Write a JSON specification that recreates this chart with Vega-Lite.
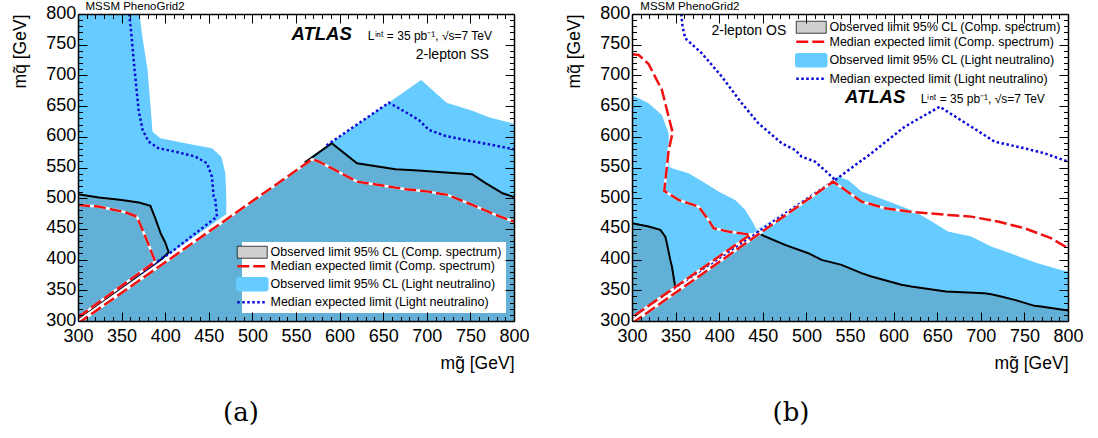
{
"$schema": "https://vega.github.io/schema/vega-lite/v6.json",
"padding": {"left": 11, "top": 0, "right": 0, "bottom": 0},
"background": "white",
"config": {"view": {"stroke": null}, "font": "Liberation Sans"},
"bounds": "flush",
"spacing": 118,
"resolve": {"scale": {"color": "independent"}, "legend": {"color": "independent"}},
"datasets": {
"A": [
{"s":"blue","x":300,"y":300},{"s":"blue","x":300,"y":800},{"s":"blue","x":370.6,"y":800},{"s":"blue","x":373.2,"y":768.6},{"s":"blue","x":379.8,"y":708.8},{"s":"blue","x":385.5,"y":608.4},{"s":"blue","x":394.4,"y":597.7},{"s":"blue","x":423.1,"y":589.5},{"s":"blue","x":453.6,"y":581.4},{"s":"blue","x":464.4,"y":567.7},{"s":"blue","x":469,"y":540.7},{"s":"blue","x":470.1,"y":497.2},{"s":"blue","x":470.1,"y":472},{"s":"blue","x":693.6,"y":692.6},{"s":"blue","x":722.7,"y":655.6},{"s":"blue","x":752.1,"y":642.6},{"s":"blue","x":771.3,"y":631.8},{"s":"blue","x":800,"y":621},{"s":"blue","x":800,"y":300},
{"s":"hatch","x":300,"y":300},{"s":"hatch","x":300,"y":506.5},{"s":"hatch","x":324,"y":501},{"s":"hatch","x":350,"y":497},{"s":"hatch","x":370,"y":493},{"s":"hatch","x":383,"y":487.5},{"s":"hatch","x":389,"y":466},{"s":"hatch","x":395,"y":442},{"s":"hatch","x":400,"y":428},{"s":"hatch","x":404,"y":412},{"s":"hatch","x":395,"y":399},{"s":"hatch","x":568,"y":566},{"s":"hatch","x":591,"y":589.5},{"s":"hatch","x":620,"y":557},{"s":"hatch","x":664,"y":547},{"s":"hatch","x":690,"y":545},{"s":"hatch","x":722,"y":541.7},{"s":"hatch","x":752,"y":539},{"s":"hatch","x":767,"y":525},{"s":"hatch","x":787,"y":508},{"s":"hatch","x":800,"y":502},{"s":"hatch","x":800,"y":300},
{"s":"white","x":300,"y":301},{"s":"white","x":568,"y":567},
{"s":"black1","x":300,"y":506.5},{"s":"black1","x":324,"y":501},{"s":"black1","x":350,"y":497},{"s":"black1","x":370,"y":493},{"s":"black1","x":383,"y":487.5},{"s":"black1","x":389,"y":466},{"s":"black1","x":395,"y":442},{"s":"black1","x":400,"y":428},{"s":"black1","x":404,"y":412},{"s":"black1","x":396,"y":401},{"s":"black1","x":300,"y":304},
{"s":"black2","x":560,"y":558},{"s":"black2","x":568,"y":566},{"s":"black2","x":591,"y":589.5},{"s":"black2","x":620,"y":557},{"s":"black2","x":664,"y":547},{"s":"black2","x":690,"y":545},{"s":"black2","x":722,"y":541.7},{"s":"black2","x":752,"y":539},{"s":"black2","x":767,"y":525},{"s":"black2","x":787,"y":508},{"s":"black2","x":800,"y":502},
{"s":"dot1","x":358.8,"y":800},{"s":"dot1","x":361.1,"y":768.6},{"s":"dot1","x":364.9,"y":708.8},{"s":"dot1","x":369.5,"y":643.7},{"s":"dot1","x":374.1,"y":611.2},{"s":"dot1","x":380.9,"y":592.2},{"s":"dot1","x":392.4,"y":581.4},{"s":"dot1","x":411.6,"y":575.8},{"s":"dot1","x":434.6,"y":567.7},{"s":"dot1","x":447.9,"y":557},{"s":"dot1","x":453.6,"y":535},{"s":"dot1","x":455.6,"y":502.5},{"s":"dot1","x":457.5,"y":497.2},{"s":"dot1","x":459.4,"y":470},{"s":"dot1","x":407.7,"y":413},{"s":"dot1","x":300,"y":307},
{"s":"dot2","x":585,"y":586},{"s":"dot2","x":656.5,"y":655.6},{"s":"dot2","x":668,"y":646.5},{"s":"dot2","x":691,"y":627.4},{"s":"dot2","x":702.4,"y":611.2},{"s":"dot2","x":721.6,"y":601.4},{"s":"dot2","x":748.3,"y":593.7},{"s":"dot2","x":775.1,"y":586.7},{"s":"dot2","x":800,"y":579.8},
{"s":"red1","x":300,"y":489},{"s":"red1","x":323.5,"y":486.3},{"s":"red1","x":354.2,"y":477.2},{"s":"red1","x":367.5,"y":470},{"s":"red1","x":377.2,"y":437.5},{"s":"red1","x":388.6,"y":396.8},{"s":"red1","x":300,"y":306},
{"s":"red2","x":300,"y":296},{"s":"red2","x":568.5,"y":563.4},{"s":"red2","x":576.4,"y":559.6},{"s":"red2","x":620.1,"y":527},{"s":"red2","x":645,"y":521.6},{"s":"red2","x":675.7,"y":514.6},{"s":"red2","x":702.4,"y":510.7},{"s":"red2","x":723.4,"y":505.4},{"s":"red2","x":733.1,"y":500},{"s":"red2","x":752.1,"y":489.1},{"s":"red2","x":779,"y":472.8},{"s":"red2","x":800,"y":461.9}
],
"B": [
{"s":"blue","x":300,"y":300},{"s":"blue","x":300,"y":668},{"s":"blue","x":319,"y":654.6},{"s":"blue","x":334.3,"y":635.6},{"s":"blue","x":342,"y":605.8},{"s":"blue","x":342.8,"y":551.4},{"s":"blue","x":345.8,"y":548.8},{"s":"blue","x":364.9,"y":540.7},{"s":"blue","x":384,"y":524.4},{"s":"blue","x":399.2,"y":510.8},{"s":"blue","x":418.3,"y":497.2},{"s":"blue","x":429.7,"y":481.1},{"s":"blue","x":439.2,"y":459.3},{"s":"blue","x":443,"y":448.4},{"s":"blue","x":536.3,"y":535.1},{"s":"blue","x":547.8,"y":529.8},{"s":"blue","x":563.2,"y":510.8},{"s":"blue","x":590,"y":497.2},{"s":"blue","x":624.3,"y":478.2},{"s":"blue","x":647.1,"y":459.3},{"s":"blue","x":662.3,"y":445.6},{"s":"blue","x":689,"y":437.5},{"s":"blue","x":711.9,"y":421.2},{"s":"blue","x":738.7,"y":407.7},{"s":"blue","x":765.3,"y":394.1},{"s":"blue","x":792,"y":383.2},{"s":"blue","x":800,"y":380.5},{"s":"blue","x":800,"y":300},
{"s":"hatch","x":300,"y":300},{"s":"hatch","x":300,"y":459.3},{"s":"hatch","x":319,"y":454},{"s":"hatch","x":332.5,"y":448.4},{"s":"hatch","x":338.2,"y":437.5},{"s":"hatch","x":340,"y":426.7},{"s":"hatch","x":343.9,"y":399.5},{"s":"hatch","x":345.8,"y":388.6},{"s":"hatch","x":349.5,"y":351},{"s":"hatch","x":444,"y":446},{"s":"hatch","x":448.7,"y":440.2},{"s":"hatch","x":475.5,"y":424},{"s":"hatch","x":502.2,"y":410.4},{"s":"hatch","x":517.4,"y":399.5},{"s":"hatch","x":540.3,"y":391.4},{"s":"hatch","x":563.2,"y":377.9},{"s":"hatch","x":574.6,"y":372.4},{"s":"hatch","x":609,"y":358.9},{"s":"hatch","x":620.3,"y":356.1},{"s":"hatch","x":660,"y":348},{"s":"hatch","x":704.3,"y":345.3},{"s":"hatch","x":711.9,"y":343.7},{"s":"hatch","x":723.3,"y":339.9},{"s":"hatch","x":738.7,"y":334.4},{"s":"hatch","x":761.6,"y":324.7},{"s":"hatch","x":769.1,"y":323.6},{"s":"hatch","x":800,"y":317},{"s":"hatch","x":800,"y":300},
{"s":"white","x":300,"y":301},{"s":"white","x":532,"y":531},
{"s":"black1","x":300,"y":459.3},{"s":"black1","x":319,"y":454},{"s":"black1","x":332.5,"y":448.4},{"s":"black1","x":338.2,"y":437.5},{"s":"black1","x":340,"y":426.7},{"s":"black1","x":343.9,"y":399.5},{"s":"black1","x":345.8,"y":388.6},{"s":"black1","x":349.5,"y":356},{"s":"black1","x":300,"y":305},
{"s":"black2","x":444,"y":446},{"s":"black2","x":448.7,"y":440.2},{"s":"black2","x":475.5,"y":424},{"s":"black2","x":502.2,"y":410.4},{"s":"black2","x":517.4,"y":399.5},{"s":"black2","x":540.3,"y":391.4},{"s":"black2","x":563.2,"y":377.9},{"s":"black2","x":574.6,"y":372.4},{"s":"black2","x":609,"y":358.9},{"s":"black2","x":620.3,"y":356.1},{"s":"black2","x":660,"y":348},{"s":"black2","x":704.3,"y":345.3},{"s":"black2","x":711.9,"y":343.7},{"s":"black2","x":723.3,"y":339.9},{"s":"black2","x":738.7,"y":334.4},{"s":"black2","x":761.6,"y":324.7},{"s":"black2","x":769.1,"y":323.6},{"s":"black2","x":800,"y":317},
{"s":"dot1","x":356.5,"y":800},{"s":"dot1","x":358,"y":779.3},{"s":"dot1","x":361.1,"y":760.4},{"s":"dot1","x":380.1,"y":736},{"s":"dot1","x":403,"y":698},{"s":"dot1","x":425.9,"y":654.6},{"s":"dot1","x":445,"y":622},{"s":"dot1","x":471.6,"y":589.5},{"s":"dot1","x":487,"y":578.6},{"s":"dot1","x":494.5,"y":567.7},{"s":"dot1","x":509.8,"y":559.6},{"s":"dot1","x":523.1,"y":543},{"s":"dot1","x":532.7,"y":530},
{"s":"dot2","x":300,"y":307},{"s":"dot2","x":536.3,"y":533},{"s":"dot2","x":574.6,"y":573.3},{"s":"dot2","x":612.8,"y":616.5},{"s":"dot2","x":652.8,"y":649},{"s":"dot2","x":689,"y":616.5},{"s":"dot2","x":715.8,"y":592.1},{"s":"dot2","x":750.1,"y":581.3},{"s":"dot2","x":773,"y":573.2},{"s":"dot2","x":800,"y":559.6},
{"s":"red1","x":300,"y":734.4},{"s":"red1","x":307.7,"y":733.3},{"s":"red1","x":319,"y":718.6},{"s":"red1","x":334.3,"y":676.3},{"s":"red1","x":346.6,"y":606.8},{"s":"red1","x":342,"y":578},{"s":"red1","x":337,"y":512},{"s":"red1","x":353.4,"y":497.2},{"s":"red1","x":376.3,"y":486.3},{"s":"red1","x":387.7,"y":464.7},{"s":"red1","x":393.5,"y":451.1},{"s":"red1","x":410.6,"y":445.6},{"s":"red1","x":429.7,"y":441.9},{"s":"red1","x":436,"y":441},{"s":"red1","x":300,"y":306},
{"s":"red2","x":300,"y":296},{"s":"red2","x":530.7,"y":527},{"s":"red2","x":536.3,"y":521.6},{"s":"red2","x":563.2,"y":494.5},{"s":"red2","x":590,"y":483.7},{"s":"red2","x":616.7,"y":478.2},{"s":"red2","x":662.3,"y":472.8},{"s":"red2","x":689,"y":470},{"s":"red2","x":719.6,"y":461.9},{"s":"red2","x":750.1,"y":451.1},{"s":"red2","x":780.5,"y":434.9},{"s":"red2","x":800,"y":418.6}
]
},
"hconcat": [
{
"width": 436, "height": 307,
"data": {"name": "A"},
"title": {"text": "(a)", "orient": "bottom", "anchor": "middle", "frame": "group", "font": "DejaVu Serif", "fontSize": 26, "fontWeight": "normal", "color": "black", "offset": 28, "dx": -55},
"resolve": {"axis": {"x": "independent", "y": "independent"}},
"layer": [
{"transform": [{"filter": "datum.s == 'blue'"}],
 "mark": {"type": "line", "fill": "#66ccff", "strokeWidth": 0, "clip": true},
 "encoding": {
  "x": {"field": "x", "type": "quantitative", "scale": {"domain": [300, 800], "nice": false, "zero": false},
   "axis": {"orient": "bottom", "values": [300,350,400,450,500,550,600,650,700,750,800], "format": "d", "tickSize": -9, "tickColor": "black", "tickWidth": 1, "labelPadding": 15.5, "labelFont": "Liberation Sans", "labelFontSize": 18, "labelColor": "black", "labelFlush": false, "labelOverlap": false, "domain": true, "domainColor": "black", "domainWidth": 1.5, "grid": false, "zindex": 1, "title": "mg̃ [GeV]", "titleFont": "Liberation Sans", "titleFontSize": 17.5, "titleFontWeight": "normal", "titleColor": "black", "titleAnchor": "end", "titlePadding": 9}},
  "y": {"field": "y", "type": "quantitative", "scale": {"domain": [300, 800], "nice": false, "zero": false},
   "axis": {"orient": "left", "values": [300,350,400,450,500,550,600,650,700,750,800], "format": "d", "tickSize": -9, "tickColor": "black", "tickWidth": 1, "labelPadding": 11.2, "labelOffset": -1, "labelFont": "Liberation Sans", "labelFontSize": 18, "labelColor": "black", "labelFlush": false, "labelOverlap": false, "domain": true, "domainColor": "black", "domainWidth": 1.5, "grid": false, "zindex": 1, "title": "mq̃ [GeV]", "titleFont": "Liberation Sans", "titleFontSize": 17.5, "titleFontWeight": "normal", "titleColor": "black", "titleAnchor": "end", "titlePadding": 16}},
  "order": {"value": null}
 }},
{"transform": [{"filter": "datum.s == 'hatch'"}],
 "mark": {"type": "line", "fill": "#62b0d6", "strokeWidth": 0, "clip": true},
 "encoding": {
  "x": {"field": "x", "type": "quantitative", "axis": {"orient": "bottom", "values": [310,320,330,340,360,370,380,390,410,420,430,440,460,470,480,490,510,520,530,540,560,570,580,590,610,620,630,640,660,670,680,690,710,720,730,740,760,770,780,790], "tickSize": -4.5, "tickColor": "black", "tickWidth": 1, "labels": false, "domain": false, "grid": false, "zindex": 1, "title": null}},
  "y": {"field": "y", "type": "quantitative", "axis": {"orient": "left", "values": [310,320,330,340,360,370,380,390,410,420,430,440,460,470,480,490,510,520,530,540,560,570,580,590,610,620,630,640,660,670,680,690,710,720,730,740,760,770,780,790], "tickSize": -4.5, "tickColor": "black", "tickWidth": 1, "labels": false, "domain": false, "grid": false, "zindex": 1, "title": null}},
  "order": {"value": null}
 }},
{"transform": [{"filter": "datum.s == 'white'"}],
 "mark": {"type": "line", "color": "white", "strokeWidth": 4, "clip": true},
 "encoding": {
  "x": {"field": "x", "type": "quantitative", "axis": {"orient": "top", "values": [300,350,400,450,500,550,600,650,700,750,800], "tickSize": -9, "tickColor": "black", "tickWidth": 1, "labels": false, "domain": true, "domainColor": "black", "domainWidth": 1.5, "grid": false, "zindex": 1, "title": null}},
  "y": {"field": "y", "type": "quantitative", "axis": {"orient": "right", "values": [300,350,400,450,500,550,600,650,700,750,800], "tickSize": -9, "tickColor": "black", "tickWidth": 1, "labels": false, "domain": true, "domainColor": "black", "domainWidth": 1.5, "grid": false, "zindex": 1, "title": null}},
  "order": {"value": null}
 }},
{"transform": [{"filter": "datum.s == 'black1' || datum.s == 'black2'"}],
 "mark": {"type": "line", "strokeWidth": 2, "clip": true},
 "encoding": {
  "x": {"field": "x", "type": "quantitative", "axis": {"orient": "top", "values": [310,320,330,340,360,370,380,390,410,420,430,440,460,470,480,490,510,520,530,540,560,570,580,590,610,620,630,640,660,670,680,690,710,720,730,740,760,770,780,790], "tickSize": -4.5, "tickColor": "black", "tickWidth": 1, "labels": false, "domain": false, "grid": false, "zindex": 1, "title": null}},
  "y": {"field": "y", "type": "quantitative", "axis": {"orient": "right", "values": [310,320,330,340,360,370,380,390,410,420,430,440,460,470,480,490,510,520,530,540,560,570,580,590,610,620,630,640,660,670,680,690,710,720,730,740,760,770,780,790], "tickSize": -4.5, "tickColor": "black", "tickWidth": 1, "labels": false, "domain": false, "grid": false, "zindex": 1, "title": null}},
  "detail": {"field": "s"},
  "order": {"value": null},
  "color": {"datum": "Observed limit 95% CL (Comp. spectrum)",
   "scale": {"domain": ["Observed limit 95% CL (Comp. spectrum)", "Median expected limit (Comp. spectrum)", "Observed limit 95% CL (Light neutralino)", "Median expected limit (Light neutralino)"], "range": ["#000000", "#f01010", "#66ccff", "#0a0ad6"]},
   "legend": {"orient": "bottom-right", "offset": 8, "padding": 4, "title": null, "fillColor": "white", "labelFont": "Liberation Sans", "labelFontSize": 12.5, "labelColor": "black", "labelLimit": 400, "labelOffset": 12, "symbolSize": 900, "rowPadding": 0,
    "encode": {"symbols": {
     "enter": {"strokeWidth": {"value": 2}, "size": {"value": 900}},
     "update": {
     "shape": {"signal": "datum.index == 0 || datum.index == 2 ? 'M-1,-0.4H1V0.4H-1Z' : 'M-1,0H1'"},
     "fill": {"signal": "datum.index == 0 ? '#cfcfcf' : datum.index == 2 ? '#66ccff' : 'transparent'"},
     "stroke": {"signal": "datum.index == 0 ? '#333333' : datum.index == 1 ? '#f01010' : datum.index == 2 ? 'transparent' : '#0a0ad6'"},
     "strokeWidth": {"signal": "datum.index == 0 ? 0.8 : 2.5"},
     "strokeDash": {"signal": "datum.index == 1 ? [12,4] : datum.index == 3 ? [2.5,2.5] : [1,0]"}
    }}}}}
 }},
{"transform": [{"filter": "datum.s == 'dot1' || datum.s == 'dot2'"}],
 "mark": {"type": "line", "strokeWidth": 2.5, "strokeDash": [2.5, 2.5], "clip": true},
 "encoding": {
  "x": {"field": "x", "type": "quantitative", "axis": null},
  "y": {"field": "y", "type": "quantitative", "axis": null},
  "detail": {"field": "s"},
  "order": {"value": null},
  "color": {"datum": "Median expected limit (Light neutralino)"}
 }},
{"transform": [{"filter": "datum.s == 'red1' || datum.s == 'red2'"}],
 "mark": {"type": "line", "color": "white", "strokeWidth": 2.5, "clip": true},
 "encoding": {
  "x": {"field": "x", "type": "quantitative", "axis": null},
  "y": {"field": "y", "type": "quantitative", "axis": null},
  "detail": {"field": "s"},
  "order": {"value": null}
 }},
{"transform": [{"filter": "datum.s == 'red1' || datum.s == 'red2'"}],
 "mark": {"type": "line", "strokeWidth": 2.5, "strokeDash": [12, 4], "clip": true},
 "encoding": {
  "x": {"field": "x", "type": "quantitative", "axis": null},
  "y": {"field": "y", "type": "quantitative", "axis": null},
  "detail": {"field": "s"},
  "order": {"value": null},
  "color": {"datum": "Median expected limit (Comp. spectrum)"}
 }},
{"data": {"values": [{"t": "MSSM PhenoGrid2"}]},
 "mark": {"type": "text", "align": "left", "baseline": "alphabetic", "font": "Liberation Sans", "fontSize": 11.5, "color": "black", "clip": false},
 "encoding": {"x": {"datum": 308.6, "type": "quantitative", "axis": null}, "y": {"datum": 807.3, "type": "quantitative", "axis": null}, "text": {"field": "t"}}},
{"data": {"values": [{"t": "ATLAS"}]},
 "mark": {"type": "text", "align": "left", "baseline": "alphabetic", "font": "Liberation Sans", "fontSize": 18.5, "fontStyle": "italic", "fontWeight": "bold", "color": "black"},
 "encoding": {"x": {"datum": 544.8, "type": "quantitative", "axis": null}, "y": {"datum": 757.7, "type": "quantitative", "axis": null}, "text": {"field": "t"}}},
{"data": {"values": [{"t": "Lⁱⁿᵗ = 35 pb⁻¹, √s=7 TeV"}]},
 "mark": {"type": "text", "align": "left", "baseline": "alphabetic", "font": "Liberation Sans", "fontSize": 12, "color": "black"},
 "encoding": {"x": {"datum": 632.4, "type": "quantitative", "axis": null}, "y": {"datum": 758, "type": "quantitative", "axis": null}, "text": {"field": "t"}}},
{"data": {"values": [{"t": "2-lepton SS"}]},
 "mark": {"type": "text", "align": "right", "baseline": "alphabetic", "font": "Liberation Sans", "fontSize": 14, "color": "black"},
 "encoding": {"x": {"datum": 771.3, "type": "quantitative", "axis": null}, "y": {"datum": 726.3, "type": "quantitative", "axis": null}, "text": {"field": "t"}}}
]
},
{
"width": 436, "height": 307,
"data": {"name": "B"},
"title": {"text": "(b)", "orient": "bottom", "anchor": "middle", "frame": "group", "font": "DejaVu Serif", "fontSize": 26, "fontWeight": "normal", "color": "black", "offset": 28, "dx": -59},
"resolve": {"axis": {"x": "independent", "y": "independent"}},
"layer": [
{"transform": [{"filter": "datum.s == 'blue'"}],
 "mark": {"type": "line", "fill": "#66ccff", "strokeWidth": 0, "clip": true},
 "encoding": {
  "x": {"field": "x", "type": "quantitative", "scale": {"domain": [300, 800], "nice": false, "zero": false},
   "axis": {"orient": "bottom", "values": [300,350,400,450,500,550,600,650,700,750,800], "format": "d", "tickSize": -9, "tickColor": "black", "tickWidth": 1, "labelPadding": 15.5, "labelFont": "Liberation Sans", "labelFontSize": 18, "labelColor": "black", "labelFlush": false, "labelOverlap": false, "domain": true, "domainColor": "black", "domainWidth": 1.5, "grid": false, "zindex": 1, "title": "mg̃ [GeV]", "titleFont": "Liberation Sans", "titleFontSize": 17.5, "titleFontWeight": "normal", "titleColor": "black", "titleAnchor": "end", "titlePadding": 9}},
  "y": {"field": "y", "type": "quantitative", "scale": {"domain": [300, 800], "nice": false, "zero": false},
   "axis": {"orient": "left", "values": [300,350,400,450,500,550,600,650,700,750,800], "format": "d", "tickSize": -9, "tickColor": "black", "tickWidth": 1, "labelPadding": 11.2, "labelOffset": -1, "labelFont": "Liberation Sans", "labelFontSize": 18, "labelColor": "black", "labelFlush": false, "labelOverlap": false, "domain": true, "domainColor": "black", "domainWidth": 1.5, "grid": false, "zindex": 1, "title": "mq̃ [GeV]", "titleFont": "Liberation Sans", "titleFontSize": 17.5, "titleFontWeight": "normal", "titleColor": "black", "titleAnchor": "end", "titlePadding": 16}},
  "order": {"value": null}
 }},
{"transform": [{"filter": "datum.s == 'hatch'"}],
 "mark": {"type": "line", "fill": "#62b0d6", "strokeWidth": 0, "clip": true},
 "encoding": {
  "x": {"field": "x", "type": "quantitative", "axis": {"orient": "bottom", "values": [310,320,330,340,360,370,380,390,410,420,430,440,460,470,480,490,510,520,530,540,560,570,580,590,610,620,630,640,660,670,680,690,710,720,730,740,760,770,780,790], "tickSize": -4.5, "tickColor": "black", "tickWidth": 1, "labels": false, "domain": false, "grid": false, "zindex": 1, "title": null}},
  "y": {"field": "y", "type": "quantitative", "axis": {"orient": "left", "values": [310,320,330,340,360,370,380,390,410,420,430,440,460,470,480,490,510,520,530,540,560,570,580,590,610,620,630,640,660,670,680,690,710,720,730,740,760,770,780,790], "tickSize": -4.5, "tickColor": "black", "tickWidth": 1, "labels": false, "domain": false, "grid": false, "zindex": 1, "title": null}},
  "order": {"value": null}
 }},
{"transform": [{"filter": "datum.s == 'white'"}],
 "mark": {"type": "line", "color": "white", "strokeWidth": 4, "clip": true},
 "encoding": {
  "x": {"field": "x", "type": "quantitative", "axis": {"orient": "top", "values": [300,350,400,450,500,550,600,650,700,750,800], "tickSize": -9, "tickColor": "black", "tickWidth": 1, "labels": false, "domain": true, "domainColor": "black", "domainWidth": 1.5, "grid": false, "zindex": 1, "title": null}},
  "y": {"field": "y", "type": "quantitative", "axis": {"orient": "right", "values": [300,350,400,450,500,550,600,650,700,750,800], "tickSize": -9, "tickColor": "black", "tickWidth": 1, "labels": false, "domain": true, "domainColor": "black", "domainWidth": 1.5, "grid": false, "zindex": 1, "title": null}},
  "order": {"value": null}
 }},
{"transform": [{"filter": "datum.s == 'black1' || datum.s == 'black2'"}],
 "mark": {"type": "line", "strokeWidth": 2, "clip": true},
 "encoding": {
  "x": {"field": "x", "type": "quantitative", "axis": {"orient": "top", "values": [310,320,330,340,360,370,380,390,410,420,430,440,460,470,480,490,510,520,530,540,560,570,580,590,610,620,630,640,660,670,680,690,710,720,730,740,760,770,780,790], "tickSize": -4.5, "tickColor": "black", "tickWidth": 1, "labels": false, "domain": false, "grid": false, "zindex": 1, "title": null}},
  "y": {"field": "y", "type": "quantitative", "axis": {"orient": "right", "values": [310,320,330,340,360,370,380,390,410,420,430,440,460,470,480,490,510,520,530,540,560,570,580,590,610,620,630,640,660,670,680,690,710,720,730,740,760,770,780,790], "tickSize": -4.5, "tickColor": "black", "tickWidth": 1, "labels": false, "domain": false, "grid": false, "zindex": 1, "title": null}},
  "detail": {"field": "s"},
  "order": {"value": null},
  "color": {"datum": "Observed limit 95% CL (Comp. spectrum)",
   "scale": {"domain": ["Observed limit 95% CL (Comp. spectrum)", "Median expected limit (Comp. spectrum)", "Observed limit 95% CL (Light neutralino)", "Median expected limit (Light neutralino)"], "range": ["#000000", "#f01010", "#66ccff", "#0a0ad6"]},
   "legend": {"orient": "top-right", "offset": 3, "padding": 4, "title": null, "fillColor": "white", "labelFont": "Liberation Sans", "labelFontSize": 12.5, "labelColor": "black", "labelLimit": 400, "labelOffset": 12, "symbolSize": 900, "rowPadding": 0.5,
    "encode": {"symbols": {
     "enter": {"strokeWidth": {"value": 2}, "size": {"value": 900}},
     "update": {
     "shape": {"signal": "datum.index == 0 || datum.index == 2 ? 'M-1,-0.4H1V0.4H-1Z' : 'M-1,0H1'"},
     "fill": {"signal": "datum.index == 0 ? '#cfcfcf' : datum.index == 2 ? '#66ccff' : 'transparent'"},
     "stroke": {"signal": "datum.index == 0 ? '#333333' : datum.index == 1 ? '#f01010' : datum.index == 2 ? 'transparent' : '#0a0ad6'"},
     "strokeWidth": {"signal": "datum.index == 0 ? 0.8 : 2.5"},
     "strokeDash": {"signal": "datum.index == 1 ? [12,4] : datum.index == 3 ? [2.5,2.5] : [1,0]"}
    }}}}}
 }},
{"transform": [{"filter": "datum.s == 'dot1' || datum.s == 'dot2'"}],
 "mark": {"type": "line", "strokeWidth": 2.5, "strokeDash": [2.5, 2.5], "clip": true},
 "encoding": {
  "x": {"field": "x", "type": "quantitative", "axis": null},
  "y": {"field": "y", "type": "quantitative", "axis": null},
  "detail": {"field": "s"},
  "order": {"value": null},
  "color": {"datum": "Median expected limit (Light neutralino)"}
 }},
{"transform": [{"filter": "datum.s == 'red1' || datum.s == 'red2'"}],
 "mark": {"type": "line", "color": "white", "strokeWidth": 2.5, "clip": true},
 "encoding": {
  "x": {"field": "x", "type": "quantitative", "axis": null},
  "y": {"field": "y", "type": "quantitative", "axis": null},
  "detail": {"field": "s"},
  "order": {"value": null}
 }},
{"transform": [{"filter": "datum.s == 'red1' || datum.s == 'red2'"}],
 "mark": {"type": "line", "strokeWidth": 2.5, "strokeDash": [12, 4], "clip": true},
 "encoding": {
  "x": {"field": "x", "type": "quantitative", "axis": null},
  "y": {"field": "y", "type": "quantitative", "axis": null},
  "detail": {"field": "s"},
  "order": {"value": null},
  "color": {"datum": "Median expected limit (Comp. spectrum)"}
 }},
{"data": {"values": [{"t": "MSSM PhenoGrid2"}]},
 "mark": {"type": "text", "align": "left", "baseline": "alphabetic", "font": "Liberation Sans", "fontSize": 11.5, "color": "black", "clip": false},
 "encoding": {"x": {"datum": 309.6, "type": "quantitative", "axis": null}, "y": {"datum": 807.3, "type": "quantitative", "axis": null}, "text": {"field": "t"}}},
{"data": {"values": [{"t": "2-lepton OS"}]},
 "mark": {"type": "text", "align": "left", "baseline": "alphabetic", "font": "Liberation Sans", "fontSize": 14, "color": "black"},
 "encoding": {"x": {"datum": 391.2, "type": "quantitative", "axis": null}, "y": {"datum": 765.8, "type": "quantitative", "axis": null}, "text": {"field": "t"}}},
{"data": {"values": [{"t": "ATLAS"}]},
 "mark": {"type": "text", "align": "left", "baseline": "alphabetic", "font": "Liberation Sans", "fontSize": 18.5, "fontStyle": "italic", "fontWeight": "bold", "color": "black"},
 "encoding": {"x": {"datum": 544.2, "type": "quantitative", "axis": null}, "y": {"datum": 654.6, "type": "quantitative", "axis": null}, "text": {"field": "t"}}},
{"data": {"values": [{"t": "Lⁱⁿᵗ = 35 pb⁻¹, √s=7 TeV"}]},
 "mark": {"type": "text", "align": "left", "baseline": "alphabetic", "font": "Liberation Sans", "fontSize": 12, "color": "black"},
 "encoding": {"x": {"datum": 631.1, "type": "quantitative", "axis": null}, "y": {"datum": 655, "type": "quantitative", "axis": null}, "text": {"field": "t"}}}
]
}
]
}
